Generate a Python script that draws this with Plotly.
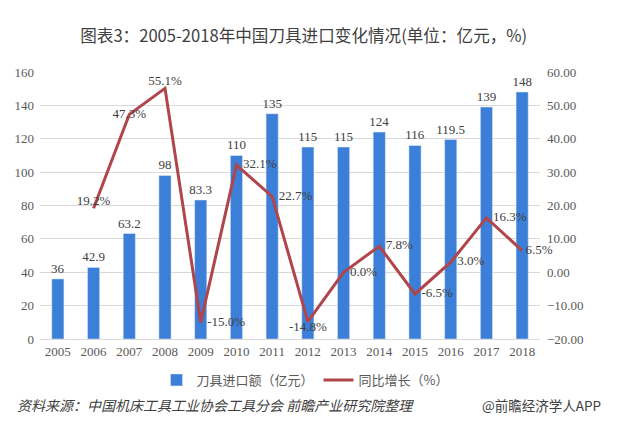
import plotly.graph_objects as go

years = ["2005", "2006", "2007", "2008", "2009", "2010", "2011", "2012",
         "2013", "2014", "2015", "2016", "2017", "2018"]
imports = [36, 42.9, 63.2, 98, 83.3, 110, 135, 115, 115, 124, 116, 119.5, 139, 148]
import_labels = ["36", "42.9", "63.2", "98", "83.3", "110", "135", "115", "115",
                 "124", "116", "119.5", "139", "148"]
growth = [None, 19.2, 47.3, 55.1, -15.0, 32.1, 22.7, -14.8, 0.0, 7.8, -6.5, 3.0, 16.3, 6.5]
growth_labels = ["", "19.2%", "47.3%", "55.1%", "  -15.0%", "  32.1%", "  22.7%", "-14.8%",
                 "  0.0%", "  7.8%", "  -6.5%", "  3.0%", "  16.3%", " 6.5%"]
growth_pos = ["top center", "top center", "middle center", "top center", "middle right",
              "middle right", "middle right", "bottom center", "middle right",
              "middle right", "middle right", "middle right", "middle right", "middle right"]
left_ticks = [0, 20, 40, 60, 80, 100, 120, 140, 160]
right_ticks = [-20, -10, 0, 10, 20, 30, 40, 50, 60]

serif = "Liberation Serif, Times New Roman, DejaVu Serif, serif"
cjk = "Noto Sans CJK SC"

W, H = 611, 419

fig = go.Figure()
fig.add_trace(go.Bar(
    x=years, y=imports, name="刀具进口额（亿元）",
    marker_color="#3c7fd8", text=import_labels, textposition="outside",
    constraintext="none",
    textfont=dict(family=serif, size=13, color="#404040"),
    cliponaxis=False,
))
fig.add_trace(go.Scatter(
    x=years, y=growth, name="同比增长（%）", yaxis="y2",
    mode="lines+text", line=dict(color="#b0454b", width=3),
    text=growth_labels, textposition=growth_pos,
    textfont=dict(family=serif, size=13, color="#404040"),
    cliponaxis=False,
))

fig.update_layout(
    width=W, height=H,
    paper_bgcolor="white", plot_bgcolor="white",
    margin=dict(l=32, r=79, t=64, b=88, autoexpand=False),
    bargap=0.66,
    title=dict(text="图表3：2005-2018年中国刀具进口变化情况(单位：亿元，%)",
               x=0.484, xanchor="center", y=1 - 28 / H, yanchor="middle",
               font=dict(family=cjk, size=16.6, color="#3f3f3f")),
    xaxis=dict(type="category", range=[-0.5, len(years) - 0.5],
               showgrid=False, showline=True, linecolor="#d9d9d9",
               ticks="", automargin=False,
               tickfont=dict(family=serif, size=13, color="#595959")),
    yaxis=dict(range=[0, 160], tickvals=left_ticks, showgrid=True, gridcolor="#d9d9d9",
               zeroline=False, ticks="", automargin=False, ticklabelstandoff=5,
               tickfont=dict(family=serif, size=13, color="#595959")),
    yaxis2=dict(range=[-20, 60], tickvals=right_ticks, overlaying="y", side="right",
                showgrid=False, zeroline=False, ticks="", automargin=False,
                ticksuffix="%", tickformat=".2f", ticklabelstandoff=6,
                tickfont=dict(family=serif, size=13, color="#595959")),
    legend=dict(orientation="h", x=0.53, xanchor="center", y=-(380 - 339) / 267,
                yanchor="middle",
                font=dict(family=cjk, size=13, color="#595959")),
    showlegend=True,
)
fig.add_annotation(text="<i>资料来源：中国机床工具工业协会工具分会 前瞻产业研究院整理</i>",
                   xref="paper", yref="paper", x=(15 - 40) / 500, y=-(405 - 339) / 267,
                   xanchor="left", yanchor="middle", showarrow=False,
                   font=dict(family=cjk, size=14, color="#404040"))
fig.add_annotation(text="@前瞻经济学人APP",
                   xref="paper", yref="paper", x=(603 - 40) / 500, y=-(405 - 339) / 267,
                   xanchor="right", yanchor="middle", showarrow=False,
                   font=dict(family=cjk, size=13.5, color="#404040"))

fig.write_html("out.html")
